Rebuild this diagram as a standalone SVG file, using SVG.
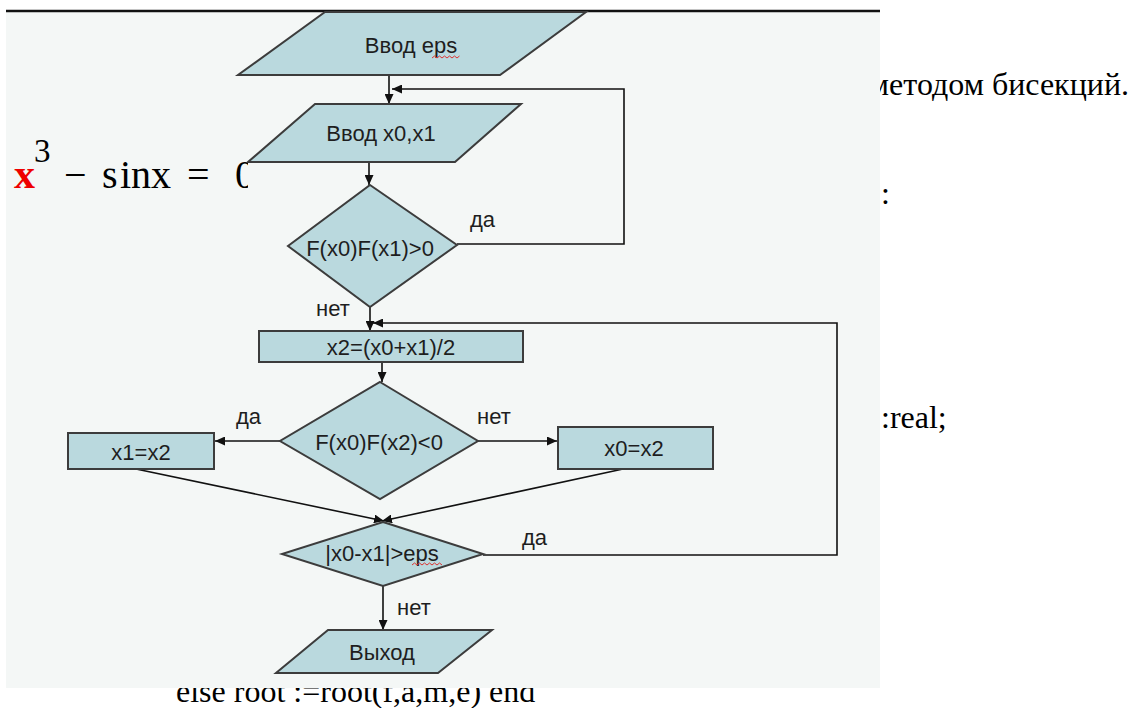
<svg xmlns="http://www.w3.org/2000/svg" width="1131" height="708" viewBox="0 0 1131 708">
<defs>
<style>
.tnr{font-family:"Liberation Serif","Times New Roman",serif;font-size:32px;fill:#000}
.eq{font-family:"Liberation Serif","Times New Roman",serif;font-size:40px;fill:#000}
.shape{fill:#bad9de;stroke:#3c3c3c;stroke-width:2}
.lbl{font-family:"Liberation Sans",Arial,sans-serif;font-size:22px;fill:#1e1e1e}
.nt{font-family:"Liberation Sans",Arial,sans-serif;font-size:22px;fill:#1e1e1e;text-anchor:middle;dominant-baseline:central}
.conn{fill:none;stroke:#111;stroke-width:1.6}
.wavy{fill:none;stroke:#d33;stroke-width:1}
</style>
<marker id="ah" markerUnits="userSpaceOnUse" markerWidth="10" markerHeight="9" refX="10" refY="4.5" orient="auto"><path d="M0,0 L10,4.5 L0,9 z" fill="#111"/></marker>
<clipPath id="eqclip"><rect x="0" y="100" width="248" height="120"/></clipPath>
</defs>
<rect width="1131" height="708" fill="#fff"/>
<g id="slide-text">
<text class="tnr" x="1129" y="95" text-anchor="end">методом бисекций.</text>
<text class="tnr" x="881" y="204">:</text>
<text class="tnr" x="881" y="428">:real;</text>
<text class="tnr" x="176" y="702">else root :=root(f,a,m,e) end</text>
</g>
<rect id="panel" x="6" y="11" width="874" height="677" fill="#f4f7f6"/>
<line id="top-rule" x1="6" y1="11" x2="880" y2="11" stroke="#111" stroke-width="2.5"/>
<g id="equation" clip-path="url(#eqclip)">
<text class="eq" x="14" y="188" style="fill:#e00;font-weight:bold;font-size:42px">x</text>
<text class="eq" x="34" y="162" style="font-size:33px">3</text>
<text class="eq" x="64" y="188">−</text>
<text class="eq" x="102" y="188">s</text>
<text class="eq" x="120" y="188">inx</text>
<text class="eq" x="187" y="188">=</text>
<text class="eq" x="235" y="188">0</text>
</g>
<g id="connectors">
<line class="conn" x1="389" y1="75" x2="389" y2="104" marker-end="url(#ah)"/>
<polyline class="conn" points="457,244 624,244 624,89 392,89" marker-end="url(#ah)"/>
<line class="conn" x1="369" y1="162" x2="369" y2="185" marker-end="url(#ah)"/>
<line class="conn" x1="370" y1="307" x2="370" y2="331" marker-end="url(#ah)"/>
<polyline class="conn" points="483,555 837,555 837,323 373,323" marker-end="url(#ah)"/>
<line class="conn" x1="382" y1="362" x2="382" y2="382" marker-end="url(#ah)"/>
<line class="conn" x1="280" y1="441" x2="215" y2="441" marker-end="url(#ah)"/>
<line class="conn" x1="478" y1="441" x2="557" y2="441" marker-end="url(#ah)"/>
<line class="conn" x1="136" y1="469" x2="384" y2="521" marker-end="url(#ah)"/>
<line class="conn" x1="623" y1="469" x2="382" y2="521" marker-end="url(#ah)"/>
<line class="conn" x1="383" y1="586" x2="383" y2="630" marker-end="url(#ah)"/>
<text class="lbl" x="470" y="227">да</text>
<text class="lbl" x="316" y="316">нет</text>
<text class="lbl" x="236" y="424">да</text>
<text class="lbl" x="477" y="424">нет</text>
<text class="lbl" x="522" y="545">да</text>
<text class="lbl" x="397" y="615">нет</text>
</g>
<g id="n-input-eps">
<polygon class="shape" points="325,12 586,12 500,75 238,75"/>
<text class="nt" x="411" y="45">Ввод eps</text>
<path class="wavy" d="M432,58 l2.5,-2 l2.5,2 l2.5,-2 l2.5,2 l2.5,-2 l2.5,2 l2.5,-2 l2.5,2 l2.5,-2 l2.5,2 l2.5,-2"/>
</g>
<g id="n-input-x0x1">
<polygon class="shape" points="315,104 521,104 455,162 248,162"/>
<text class="nt" x="381" y="133">Ввод x0,x1</text>
</g>
<g id="n-check-sign">
<polygon class="shape" points="370,185 457,245 370,307 288,246"/>
<text class="nt" x="370" y="248">F(x0)F(x1)&gt;0</text>
</g>
<g id="n-mid">
<rect class="shape" x="259" y="331" width="264" height="31"/>
<text class="nt" x="391" y="347">x2=(x0+x1)/2</text>
</g>
<g id="n-check-half">
<polygon class="shape" points="380,382 478,441 380,499 280,441"/>
<text class="nt" x="379" y="442">F(x0)F(x2)&lt;0</text>
</g>
<g id="n-x1">
<rect class="shape" x="68" y="433" width="146" height="36"/>
<text class="nt" x="141" y="452">x1=x2</text>
</g>
<g id="n-x0">
<rect class="shape" x="558" y="427" width="155" height="42"/>
<text class="nt" x="634" y="448">x0=x2</text>
</g>
<g id="n-check-eps">
<polygon class="shape" points="383,522 483,554 383,586 282,554"/>
<text class="nt" x="382" y="553">|x0-x1|&gt;eps</text>
<path class="wavy" d="M412,565 l2.5,-2 l2.5,2 l2.5,-2 l2.5,2 l2.5,-2 l2.5,2 l2.5,-2 l2.5,2 l2.5,-2 l2.5,2 l2.5,-2 l2.5,2"/>
</g>
<g id="n-output">
<polygon class="shape" points="328,630 492,630 438,673 276,673"/>
<text class="nt" x="382" y="652">Выход</text>
</g>
</svg>
